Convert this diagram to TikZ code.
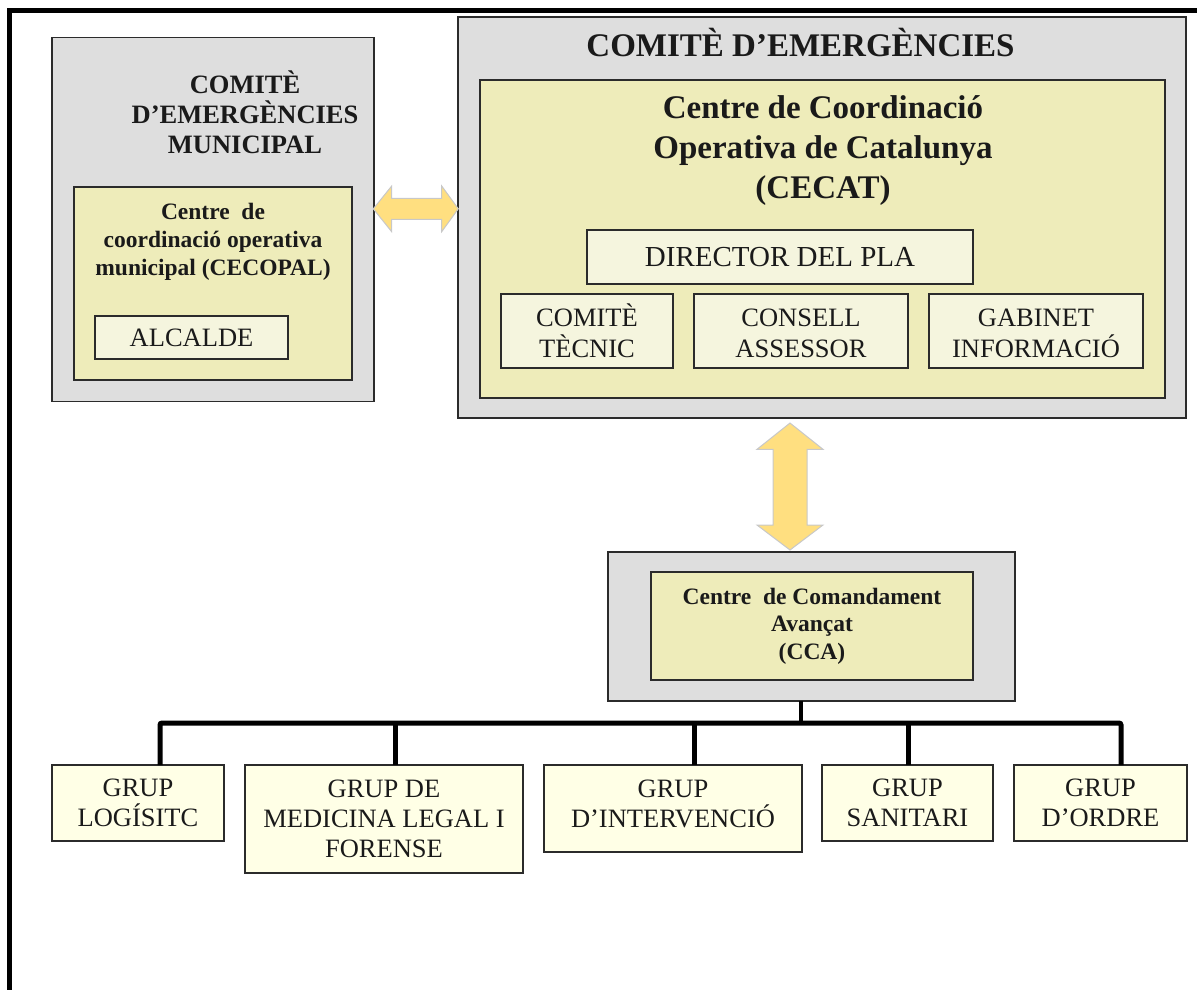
\documentclass[tikz,border=0pt]{standalone}
\usepackage{fontspec}
\setmainfont{Liberation Serif}
\definecolor{grayfill}{HTML}{DEDEDE}
\definecolor{yel}{HTML}{EEECBA}
\definecolor{lightyel}{HTML}{F5F5DE}
\definecolor{grpyel}{HTML}{FFFFE6}
\definecolor{arrowfill}{HTML}{FFDF80}
\definecolor{arrowedge}{HTML}{C8C8C8}
\definecolor{edge}{HTML}{2B2B2B}
\definecolor{ink}{HTML}{1A1A1A}
\begin{document}
\begin{tikzpicture}[x=1pt,y=-1pt,
  box/.style={draw=edge, line width=1.3pt, inner sep=0pt, outer sep=0pt, text=ink},
  graybox/.style={box, fill=grayfill},
  yelbox/.style={box, fill=yel},
  lightbox/.style={box, fill=lightyel, align=center, font=\fontsize{26.5}{31}\selectfont},
  grpbox/.style={box, fill=grpyel, align=center, font=\fontsize{26.5}{30}\selectfont},
  ttl/.style={inner sep=0pt, align=center, text=ink},
  bigarrow/.style={fill=arrowfill, draw=arrowedge, line width=1pt},
  bus/.style={line width=5pt, draw=black, rounded corners=2pt}]
\useasboundingbox (0,0) rectangle (1197,989);

% outer frame
\draw[line width=5pt] (9.5,1000) -- (9.5,10.5) -- (1210,10.5);

% left: comite municipal
\node[graybox, minimum width=322pt, minimum height=364pt] (cem) at (213,219.5) {};
\node[ttl, font=\bfseries\fontsize{26.5}{30}\selectfont] (cemt) at (245,112)
  {COMITÈ\\D’EMERGÈNCIES\\MUNICIPAL};
\node[yelbox, minimum width=278pt, minimum height=193pt] (cecopal) at (213,283.5) {};
\node[ttl, font=\bfseries\fontsize{23.5}{28}\selectfont] (cecopalt) at (213,242)
  {Centre \ de\\coordinació operativa\\municipal (CECOPAL)};
\node[lightbox, minimum width=193pt, minimum height=43pt] (alc) at (191.5,337.5) {ALCALDE};

% right: comite d'emergencies
\node[graybox, minimum width=728pt, minimum height=401pt] (ce) at (822,217.5) {};
\node[ttl, anchor=base, font=\bfseries\fontsize{33}{38}\selectfont] (cet) at (800.5,56)
  {COMITÈ D’EMERGÈNCIES};
\node[yelbox, minimum width=685pt, minimum height=318pt] (cecat) at (822.5,239) {};
\node[ttl, font=\bfseries\fontsize{33}{40}\selectfont] (cecatt) at (823,151)
  {Centre de Coordinació\\Operativa de Catalunya\\(CECAT)};
\node[lightbox, minimum width=386pt, minimum height=54pt, font=\fontsize{29}{31}\selectfont] (dir) at (780,257) {DIRECTOR DEL PLA};
\node[lightbox, minimum width=172pt, minimum height=74pt] (ct) at (587,331) {COMITÈ\\TÈCNIC};
\node[lightbox, minimum width=214pt, minimum height=74pt] (ca) at (801,331) {\vphantom{È}CONSELL\\ASSESSOR};
\node[lightbox, minimum width=214pt, minimum height=74pt] (gi) at (1036,331) {\vphantom{È}GABINET\\INFORMACIÓ};

% CCA
\node[graybox, minimum width=407pt, minimum height=149pt] (ccag) at (811.5,626.5) {};
\node[yelbox, minimum width=322pt, minimum height=108pt, align=center,
  font=\bfseries\fontsize{23.5}{27.5}\selectfont] (cca) at (812,626)
  {Centre \ de Comandament\\Avançat\\(CCA)};

% arrows
\draw[bigarrow] (373.3,208.8) -- (391.7,186) -- (391.7,198.3) -- (441.7,198.3) -- (441.7,186)
  -- (458.3,208.8) -- (441.7,231.7) -- (441.7,219.3) -- (391.7,219.3) -- (391.7,231.7) -- cycle;
\draw[bigarrow] (790,423) -- (823,449.3) -- (807,449.3) -- (807,525) -- (823,525)
  -- (790,550) -- (757,525) -- (773,525) -- (773,449.3) -- (757,449.3) -- cycle;

% groups
\node[grpbox, minimum width=172pt, minimum height=76pt] (g1) at (138,803) {GRUP\\LOGÍSITC};
\node[grpbox, minimum width=278pt, minimum height=108pt] (g2) at (384,819) {GRUP DE\\MEDICINA LEGAL I\\FORENSE};
\node[grpbox, minimum width=258pt, minimum height=87pt, text depth=10pt] (g3) at (673,808.5) {GRUP\\D’INTERVENCIÓ};
\node[grpbox, minimum width=171pt, minimum height=76pt] (g4) at (907.5,803) {GRUP\\SANITARI};
\node[grpbox, minimum width=173pt, minimum height=76pt] (g5) at (1100.5,803) {GRUP\\D’ORDRE};

% bus
\coordinate (b1) at (160,723);
\coordinate (b2) at (395,723);
\coordinate (b3) at (694,723);
\coordinate (b4) at (908,723);
\coordinate (b5) at (1121,723);
\coordinate (bc) at (801,723);
\draw[bus] (b1 |- g1.north) -- (b1) -- (b5) -- (b5 |- g5.north);
\draw[bus] (b2) -- (b2 |- g2.north);
\draw[bus] (b3) -- (b3 |- g3.north);
\draw[bus] (b4) -- (b4 |- g4.north);
\draw[line width=4pt] (bc |- ccag.south) -- (bc);
\end{tikzpicture}
\end{document}
